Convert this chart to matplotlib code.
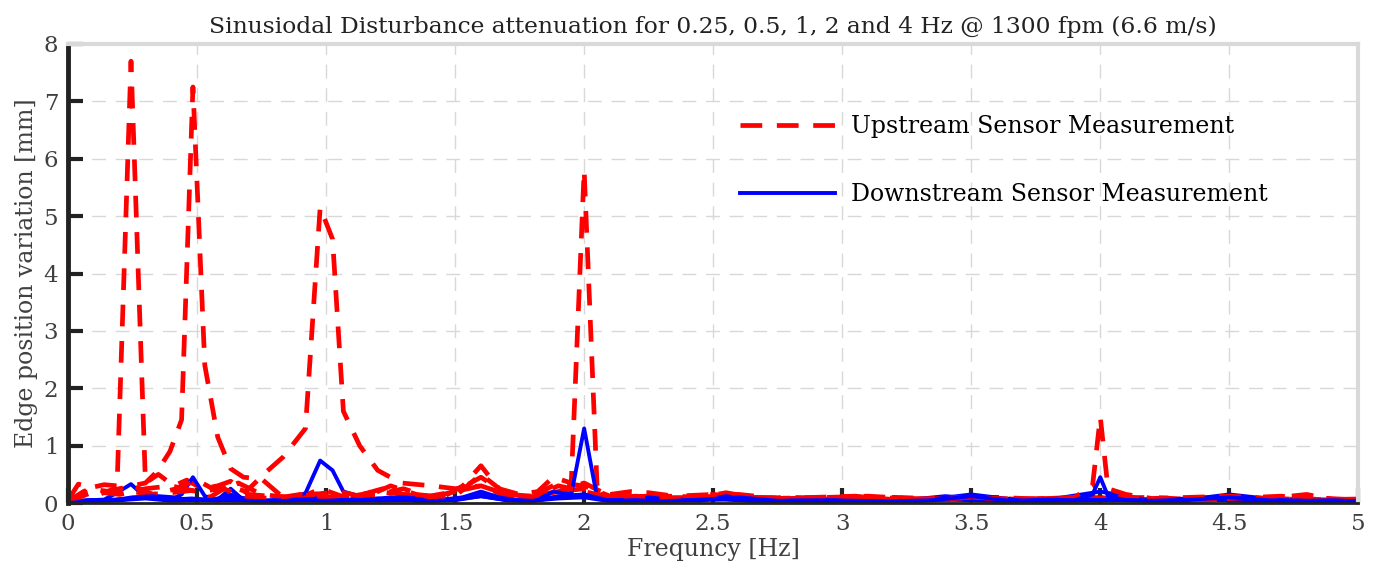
import numpy as np
import matplotlib
matplotlib.use("Agg")
import matplotlib.pyplot as plt

# --- data (FFT amplitude, mm) ---
# run 1: 0.25 Hz disturbance
f1 = [0.0, 0.04, 0.09, 0.14, 0.19, 0.244, 0.30, 0.35, 0.41, 0.46,
      0.52, 0.58, 0.63, 0.7, 0.78, 0.86, 0.94, 1.02, 1.1, 1.2,
      1.3, 1.4, 1.5, 1.6, 1.7, 1.8, 1.9, 2.0, 2.1, 2.25,
      2.4, 2.55, 2.7, 2.9, 3.1, 3.3, 3.5, 3.7, 3.9, 4.1,
      4.3, 4.5, 4.7, 4.85, 5.0]
up1 = [0.05, 0.33, 0.27, 0.32, 0.3, 7.7, 0.35, 0.5, 0.3, 0.4,
       0.25, 0.3, 0.38, 0.15, 0.12, 0.1, 0.18, 0.1, 0.12, 0.2,
       0.15, 0.12, 0.2, 0.3, 0.12, 0.1, 0.2, 0.25, 0.1, 0.12,
       0.08, 0.12, 0.07, 0.06, 0.1, 0.07, 0.09, 0.06, 0.08, 0.07,
       0.05, 0.07, 0.06, 0.09, 0.05]
dn1 = [0.0, 0.04, 0.05, 0.06, 0.18, 0.33, 0.1, 0.12, 0.1, 0.05,
       0.06, 0.05, 0.15, 0.05, 0.03, 0.04, 0.05, 0.04, 0.06, 0.08,
       0.05, 0.06, 0.05, 0.12, 0.05, 0.04, 0.08, 0.1, 0.03, 0.04,
       0.05, 0.06, 0.03, 0.04, 0.03, 0.04, 0.08, 0.03, 0.04, 0.05,
       0.03, 0.06, 0.04, 0.03, 0.02]

# run 2: 0.5 Hz disturbance
f2 = [0.0, 0.05, 0.1, 0.15, 0.2, 0.25, 0.3, 0.345, 0.395, 0.44,
      0.484, 0.53, 0.58, 0.63, 0.68, 0.75, 0.82, 0.9, 0.98, 1.06,
      1.14, 1.22, 1.3, 1.4, 1.5, 1.6, 1.7, 1.8, 1.9, 2.0,
      2.1, 2.2, 2.35, 2.5, 2.65, 2.8, 3.0, 3.2, 3.4, 3.6,
      3.8, 4.0, 4.2, 4.4, 4.6, 4.8, 5.0]
up2 = [0.02, 0.15, 0.2, 0.18, 0.25, 0.3, 0.35, 0.55, 0.9, 1.45,
       7.25, 2.4, 1.15, 0.6, 0.45, 0.42, 0.15, 0.1, 0.25, 0.12,
       0.15, 0.25, 0.15, 0.1, 0.2, 0.45, 0.15, 0.12, 0.35, 0.3,
       0.12, 0.1, 0.08, 0.15, 0.1, 0.08, 0.06, 0.1, 0.07, 0.05,
       0.08, 0.12, 0.06, 0.07, 0.09, 0.05, 0.06]
dn2 = [0.0, 0.03, 0.04, 0.05, 0.05, 0.08, 0.12, 0.1, 0.05, 0.15,
       0.45, 0.12, 0.06, 0.25, 0.05, 0.04, 0.05, 0.06, 0.1, 0.05,
       0.04, 0.06, 0.08, 0.05, 0.06, 0.18, 0.06, 0.04, 0.12, 0.15,
       0.04, 0.05, 0.06, 0.08, 0.04, 0.05, 0.03, 0.04, 0.06, 0.04,
       0.05, 0.1, 0.04, 0.06, 0.03, 0.04, 0.03]

# run 3: 1 Hz disturbance
f3 = [0.0, 0.06, 0.12, 0.18, 0.25, 0.32, 0.4, 0.48, 0.55, 0.62,
      0.69, 0.77, 0.833, 0.92, 0.977, 1.025, 1.067, 1.13, 1.2, 1.29,
      1.41, 1.5, 1.6, 1.7, 1.8, 1.9, 2.0, 2.1, 2.2, 2.35,
      2.5, 2.65, 2.8, 3.0, 3.2, 3.4, 3.6, 3.8, 4.0, 4.2,
      4.4, 4.6, 4.8, 5.0]
up3 = [0.03, 0.2, 0.15, 0.25, 0.2, 0.15, 0.18, 0.22, 0.1, 0.3,
       0.2, 0.55, 0.8, 1.3, 5.15, 4.6, 1.6, 1.0, 0.57, 0.35,
       0.3, 0.25, 0.3, 0.15, 0.12, 0.2, 0.35, 0.12, 0.1, 0.12,
       0.15, 0.08, 0.1, 0.07, 0.06, 0.08, 0.1, 0.06, 0.08, 0.1,
       0.05, 0.09, 0.06, 0.05]
dn3 = [0.0, 0.04, 0.05, 0.06, 0.08, 0.1, 0.06, 0.08, 0.05, 0.12,
       0.05, 0.04, 0.06, 0.17, 0.74, 0.57, 0.2, 0.12, 0.06, 0.1,
       0.07, 0.06, 0.15, 0.05, 0.04, 0.1, 0.12, 0.05, 0.06, 0.05,
       0.1, 0.04, 0.05, 0.04, 0.03, 0.12, 0.04, 0.06, 0.2, 0.04,
       0.1, 0.03, 0.04, 0.03]

# run 4: 2 Hz disturbance
f4 = [0.0, 0.08, 0.16, 0.25, 0.33, 0.42, 0.5, 0.58, 0.66, 0.75,
      0.85, 0.95, 1.05, 1.15, 1.25, 1.35, 1.45, 1.53, 1.6, 1.67,
      1.75, 1.82, 1.88, 1.95, 2.0, 2.05, 2.1, 2.18, 2.25, 2.35,
      2.45, 2.55, 2.65, 2.8, 2.95, 3.1, 3.3, 3.5, 3.7, 3.9,
      4.1, 4.3, 4.5, 4.7, 4.85, 5.0]
up4 = [0.02, 0.25, 0.2, 0.3, 0.15, 0.25, 0.4, 0.2, 0.35, 0.15,
       0.1, 0.15, 0.2, 0.1, 0.3, 0.15, 0.1, 0.3, 0.65, 0.25,
       0.15, 0.2, 0.45, 0.35, 5.8, 0.3, 0.15, 0.2, 0.18, 0.12,
       0.1, 0.18, 0.1, 0.08, 0.1, 0.12, 0.07, 0.1, 0.06, 0.08,
       0.1, 0.05, 0.08, 0.12, 0.06, 0.07]
dn4 = [0.0, 0.05, 0.04, 0.1, 0.12, 0.05, 0.06, 0.04, 0.1, 0.04,
       0.05, 0.06, 0.04, 0.05, 0.1, 0.04, 0.06, 0.1, 0.2, 0.1,
       0.04, 0.06, 0.2, 0.15, 1.3, 0.1, 0.04, 0.05, 0.1, 0.05,
       0.04, 0.12, 0.05, 0.04, 0.05, 0.03, 0.04, 0.15, 0.04, 0.06,
       0.05, 0.04, 0.15, 0.05, 0.03, 0.04]

# run 5: 4 Hz disturbance
f5 = [0.0, 0.1, 0.2, 0.3, 0.4, 0.5, 0.6, 0.7, 0.8, 0.9,
      1.0, 1.1, 1.2, 1.3, 1.4, 1.5, 1.6, 1.7, 1.8, 1.9,
      2.0, 2.1, 2.2, 2.3,
      2.45, 2.6, 2.75, 2.9, 3.05, 3.2, 3.35, 3.5, 3.65, 3.8,
      3.9, 3.97, 4.0, 4.03, 4.1, 4.2, 4.35, 4.5, 4.65, 4.8, 4.9, 5.0]
up5 = [0.02, 0.2, 0.15, 0.25, 0.3, 0.2, 0.25, 0.1, 0.08, 0.15,
       0.1, 0.12, 0.15, 0.25, 0.1, 0.12, 0.5, 0.15, 0.1, 0.3,
       0.2, 0.1, 0.12, 0.08,
       0.1, 0.15, 0.08, 0.1, 0.12, 0.06, 0.08, 0.1, 0.07, 0.08,
       0.1, 0.3, 1.5, 0.25, 0.15, 0.08, 0.1, 0.12, 0.08, 0.15, 0.06, 0.05]
dn5 = [0.0, 0.04, 0.05, 0.08, 0.04, 0.06, 0.05, 0.04, 0.03, 0.05,
       0.04, 0.06, 0.04, 0.05, 0.03, 0.06, 0.12, 0.05, 0.04, 0.1,
       0.15, 0.04, 0.05, 0.03,
       0.06, 0.1, 0.04, 0.05, 0.04, 0.03, 0.05, 0.12, 0.04, 0.06,
       0.05, 0.15, 0.45, 0.12, 0.05, 0.04, 0.06, 0.1, 0.05, 0.04, 0.05, 0.03]

runs = [(f1, up1, dn1), (f2, up2, dn2), (f3, up3, dn3), (f4, up4, dn4), (f5, up5, dn5)]

labels = ["Upstream Sensor Measurement", "Downstream Sensor Measurement"]
title = "Sinusiodal Disturbance attenuation for 0.25, 0.5, 1, 2 and 4 Hz @ 1300 fpm (6.6 m/s)"

plt.rcParams['font.family'] = ['DejaVu Serif']

fig = plt.figure(figsize=(13.8, 5.71), dpi=100)
ax = fig.add_axes([0.0493, 0.119, 0.935, 0.804])

for f, up, dn in runs:
    hu, = ax.plot(f, up, color="#ff0000", lw=3.4, linestyle=(0, (4.6, 3.1)))
    hd, = ax.plot(f, dn, color="#0000ff", lw=2.8)

ax.set_xlim(0, 5)
ax.set_ylim(0, 8)
ax.set_xticks(np.arange(0, 5.01, 0.5))
ax.set_xticklabels(["0", "0.5", "1", "1.5", "2", "2.5", "3", "3.5", "4", "4.5", "5"])
ax.set_yticks(range(0, 9))

ax.grid(True, color="#d8d8d8", linestyle=(0, (10, 7)), lw=1)
ax.set_axisbelow(True)

for s in ["top", "right"]:
    ax.spines[s].set_color("#d9d9d9")
    ax.spines[s].set_linewidth(3)
ax.spines["left"].set_color("#222222")
ax.spines["left"].set_linewidth(3.5)
ax.spines["bottom"].set_color("#222222")
ax.spines["bottom"].set_linewidth(2)

ax.tick_params(direction="in", length=11, width=3, color="#222222",
               labelsize=16.5, labelcolor="#404040", pad=7)

ax.set_title(title, fontsize=16.8, color="#222222", pad=8)
ax.set_xlabel("Frequncy [Hz]", fontsize=17, color="#404040", labelpad=2)
ax.set_ylabel("Edge position variation [mm]", fontsize=17, color="#404040", labelpad=4)

ax.legend([hu, hd], labels, loc="upper left", bbox_to_anchor=(0.521, 0.845),
          frameon=False, fontsize=17, handlelength=4.0, handletextpad=0.7,
          labelspacing=1.9, borderpad=0, borderaxespad=0)

fig.savefig("out.png", dpi=100)
